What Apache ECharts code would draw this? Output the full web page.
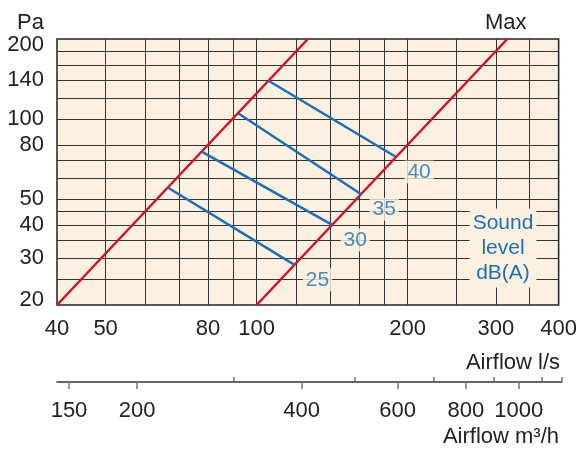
<!DOCTYPE html>
<html>
<head>
<meta charset="utf-8">
<script src="https://cdn.jsdelivr.net/npm/echarts@6/dist/echarts.min.js"></script>
<style>
	html, body { margin: 0; padding: 0; background: #fff; }
	#chart { width: 580px; height: 455px; }
</style>
</head>
<body>
<div id="chart"></div>
<script>
/*axis values*/
var flowLabels = [40, 50, 80, 100, 200, 300, 400];
var flowGrid = [50, 60, 70, 80, 90, 100, 120, 140, 160, 180, 200, 250, 300, 350];
var paLabels = [20, 30, 40, 50, 80, 100, 140, 200];
var paGrid = [25, 30, 35, 40, 45, 50, 60, 70, 80, 100, 120, 140, 160, 180];
var m3hLabels = [150, 200, 400, 600, 800, 1000];
var m3hMinor = [300, 500, 700, 900, 1100, 1200];

/*curves: [l/s, Pa]*/
var minLine = [[40, 20], [126.5, 200]];
var maxLine = [[100, 20], [316, 200]];
var soundNames = ['25', '30', '35', '40'];
var sound25 = [[66.5, 55.3], [119, 28.3]];
var sound30 = [[77.7, 75.4], [141.5, 40]];
var sound35 = [[92, 105], [161.6, 52.2]];
var sound40 = [[105.6, 139.4], [189.7, 72]];
var soundLines = [sound25, sound30, sound35, sound40];

var cream = '#fcf1e0';
var red = '#d40f2b';
var blue = '#1a6fb8';
var ink = '#222';
var font = "'Liberation Sans', Arial, sans-serif";

function lg(v) {
	return Math.log(v) / Math.LN10;
}
function toLog(points) {
	return points.map(function(p) {
		return [lg(p[0]), lg(p[1])];
	});
}
function fromLog(v) {
	return String(Math.round(Math.pow(10, v)));
}
/*y labels: end values pulled inside a little*/
function paLabel(v) {
	var s = fromLog(v);
	if(s == String(paLabels[0])) return '{lo|' + s + '}';
	if(s == String(paLabels[paLabels.length - 1])) return '{hi|' + s + '}';
	return s;
}

var series = [];
[minLine, maxLine].forEach(function(line) {
	series.push({
		type: 'line',
		data: toLog(line),
		symbol: 'none',
		lineStyle: { color: red, width: 2.5 },
		z: 3
	});
});
soundLines.forEach(function(line) {
	series.push({
		type: 'line',
		data: toLog(line),
		symbol: 'none',
		lineStyle: { color: blue, width: 2.5 },
		z: 4
	});
});
/*dB labels at the end of each sound line*/
series.push({
	type: 'scatter',
	symbolSize: 0,
	z: 6,
	data: soundLines.map(function(line, i) {
		var end = line[line.length - 1];
		return { name: soundNames[i], value: [lg(end[0]), lg(end[1])] };
	}),
	label: {
		show: true,
		position: 'inside',
		offset: [23, 15],
		formatter: '{b}',
		color: blue,
		fontSize: 21,
		fontFamily: font,
		backgroundColor: cream,
		padding: [1, 3]
	}
});

var labelFont = { fontSize: 22, color: ink, fontFamily: font };

var option = {
	animation: false,
	textStyle: { fontFamily: font },
	grid: [{
		left: 57, top: 39, width: 503, height: 266,
		show: true,
		backgroundColor: cream,
		borderColor: ink,
		borderWidth: 1.5
	}, {
		left: 57, top: 381, width: 505, height: 1
	}],
	xAxis: [{
		type: 'value',
		gridIndex: 0,
		min: lg(40),
		max: lg(400),
		axisLine: { show: false },
		axisTick: { show: false, customValues: flowGrid.map(lg) },
		splitLine: { show: true, lineStyle: { color: '#333', width: 1 } },
		axisLabel: {
			customValues: flowLabels.map(lg),
			formatter: fromLog,
			fontSize: 22,
			color: ink,
			margin: 13
		}
	}, {
		type: 'value',
		gridIndex: 1,
		min: lg(142.6),
		max: lg(1200),
		axisLine: { show: true, lineStyle: { color: '#333', width: 1.5 } },
		axisTick: { show: true, length: 7, customValues: m3hLabels.map(lg), lineStyle: { color: '#777', width: 1.5 } },
		splitLine: { show: false },
		axisLabel: {
			customValues: m3hLabels.map(lg),
			formatter: fromLog,
			fontSize: 22,
			color: ink,
			margin: 18
		}
	}, {
		type: 'value',
		gridIndex: 1,
		min: lg(142.6),
		max: lg(1200),
		axisLine: { show: false },
		axisTick: { show: true, length: 4, customValues: m3hMinor.map(lg), lineStyle: { color: '#777', width: 1.5 } },
		splitLine: { show: false },
		axisLabel: { show: false }
	}],
	yAxis: [{
		type: 'value',
		gridIndex: 0,
		min: lg(20),
		max: lg(200),
		axisLine: { show: false },
		axisTick: { show: false, customValues: paGrid.map(lg) },
		splitLine: { show: true, lineStyle: { color: '#333', width: 1 } },
		axisLabel: {
			customValues: paLabels.map(lg),
			formatter: paLabel,
			fontSize: 22,
			color: ink,
			margin: 13,
			rich: {
				lo: Object.assign({ padding: [0, 0, 10, 0] }, labelFont),
				hi: Object.assign({ padding: [11, 0, 0, 0] }, labelFont)
			}
		}
	}, {
		type: 'value',
		gridIndex: 1,
		show: false,
		min: 0,
		max: 1
	}],
	graphic: [{
		type: 'text', left: 17, top: 12, z: 100,
		style: { text: 'Pa', font: '22px ' + font, fill: ink }
	}, {
		type: 'text', left: 485, top: 12, z: 100,
		style: { text: 'Max', font: '22px ' + font, fill: ink }
	}, {
		type: 'text', right: 20, top: 352, z: 100,
		style: { text: 'Airflow l/s', font: '22px ' + font, fill: ink }
	}, {
		type: 'text', right: 21, top: 426, z: 100,
		style: { text: 'Airflow m³/h', font: '22px ' + font, fill: ink }
	}, {
		type: 'text', x: 503, y: 248, z: 100,
		style: {
			text: 'Sound\nlevel\ndB(A)',
			font: '21px ' + font,
			fill: blue,
			align: 'center',
			verticalAlign: 'middle',
			textAlign: 'center',
			textVerticalAlign: 'middle',
			lineHeight: 25,
			backgroundColor: cream,
			padding: [2, 3]
		}
	}],
	series: series
};

var myChart = echarts.init(document.getElementById('chart'));
myChart.setOption(option);
</script>
</body>
</html>
